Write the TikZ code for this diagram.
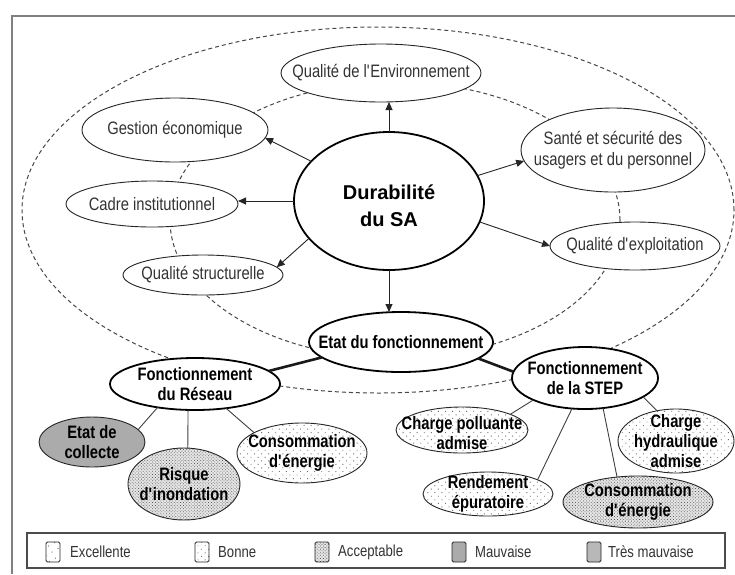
\documentclass[tikz,border=0pt]{standalone}
\usepackage{fontspec}
\setmainfont[FakeStretch=0.82]{Liberation Sans}
\newfontfamily\durfont{Liberation Sans}
\usetikzlibrary{shapes.geometric,patterns,patterns.meta,arrows.meta}
\begin{document}
\begin{tikzpicture}[x=1pt,y=-1pt,
  ell/.style={ellipse, draw=black!85, line width=0.9pt, fill=white, inner sep=0pt, outer sep=0pt},
  thk/.style={line width=1.8pt, draw=black},
  txt/.style={font=\fontsize{18}{21}\selectfont, text=black!80, align=center, inner sep=0pt},
  btxt/.style={font=\fontsize{18}{20}\selectfont\bfseries, text=black, align=center, inner sep=0pt},
  durtxt/.style={font=\durfont\bfseries\fontsize{20}{27}\selectfont, text=black, align=center, inner sep=0pt},
  arr/.style={-{Triangle[length=8pt,width=7pt]}, line width=0.9pt, draw=black!85},
  lnk/.style={line width=0.9pt, draw=black!75},
  bigl/.style={line width=2.6pt, draw=black!90},
  dsh/.style={draw=black!72, line width=1pt, dash pattern=on 4pt off 3pt},
  bonne/.style={preaction={fill=white}, pattern={Dots[distance=5pt, angle=45, radius=0.65pt]}, pattern color=black!55},
  excel/.style={preaction={fill=white}, pattern={Dots[distance=7pt, angle=30, radius=0.65pt]}, pattern color=black!60},
  acc/.style={preaction={fill=black!10}, pattern={Dots[distance=2.2pt, angle=45, radius=0.55pt]}, pattern color=black!65},
  mauv/.style={fill=black!33},
  tmauv/.style={fill=black!28},
  sw/.style={rectangle, draw=black!85, line width=0.8pt, rounded corners=1.5pt, minimum width=14pt, minimum height=20pt, inner sep=0pt},
  lt/.style={font=\fontsize{16}{18}\selectfont, text=black!80, anchor=west, inner sep=0pt}
  ]
\useasboundingbox (0,0) rectangle (735,574);
\fill[white] (0,0) rectangle (735,574);
% frame
\draw[black!50, line width=2.2pt] (735,16) -- (12,16) -- (12,574);
% dashed ellipses
\draw[dsh] (378,210) ellipse [x radius=356pt, y radius=183pt];
\draw[dsh] (395,220) ellipse [x radius=225pt, y radius=138pt];

% upper nodes
\node[ell, minimum width=200pt, minimum height=58pt, label={[txt]center:Qualité de l\textquotesingle Environnement}] (QE) at (381,73) {};
\node[ell, thk, minimum width=190pt, minimum height=138pt, label={[durtxt, yshift=-5pt]center:{Durabilité\\du SA}}] (DUR) at (389,201) {};
\node[ell, minimum width=186pt, minimum height=64pt, label={[txt]center:Gestion économique}] (GE) at (175,130) {};
\node[ell, minimum width=172pt, minimum height=46pt, label={[txt]center:Cadre institutionnel}] (CI) at (152,204) {};
\node[ell, minimum width=160pt, minimum height=40pt, label={[txt]center:Qualité structurelle}] (QS) at (203,275) {};
\node[ell, minimum width=184pt, minimum height=84pt, label={[txt]center:{Santé et sécurité des\\usagers et du personnel}}] (SS) at (613,150) {};
\node[ell, minimum width=170pt, minimum height=48pt, label={[txt]center:Qualité d\textquotesingle exploitation}] (QX) at (635,246) {};

% middle and lower nodes
\node[ell, thk, minimum width=184pt, minimum height=60pt, label={[btxt]center:Etat du fonctionnement}] (ET) at (401,342) {};
\node[ell, thk, minimum width=170pt, minimum height=52pt, label={[btxt]center:{Fonctionnement\\du Réseau}}] (RE) at (195,384) {};
\node[ell, thk, minimum width=146pt, minimum height=62pt, label={[btxt]center:{Fonctionnement\\de la STEP}}] (ST) at (585,378) {};

\node[ell, mauv, minimum width=106pt, minimum height=50pt, label={[btxt]center:{Etat de\\collecte}}] (EC) at (92,442) {};
\node[ell, acc, minimum width=112pt, minimum height=72pt, label={[btxt]center:{Risque\\d\textquotesingle inondation}}] (RI) at (184,484) {};
\node[ell, bonne, minimum width=130pt, minimum height=60pt, label={[btxt]center:{Consommation\\d\textquotesingle énergie}}] (CG) at (302,453) {};
\node[ell, bonne, minimum width=132pt, minimum height=46pt, label={[btxt, yshift=-3pt]center:{Charge polluante\\admise}}] (CP) at (462,430) {};
\node[ell, bonne, minimum width=116pt, minimum height=64pt, label={[btxt]center:{Charge\\hydraulique\\admise}}] (CH) at (676,441) {};
\node[ell, bonne, minimum width=130pt, minimum height=44pt, label={[btxt]center:{Rendement\\épuratoire}}] (RD) at (488,494) {};
\node[ell, acc, minimum width=150pt, minimum height=52pt, label={[btxt]center:{Consommation\\d\textquotesingle énergie}}] (CD) at (638,502) {};

% arrows from Durabilite
\draw[arr] (DUR.north) -- (DUR.north |- QE.south);
\draw[arr] (DUR.153) -- (GE.-5);
\draw[arr] (DUR.west) -- (DUR.west -| CI.east);
\draw[arr] (DUR.205) -- (QS.6);
\draw[arr] (DUR.16) -- (SS.187);
\draw[arr] (DUR.-13) -- (QX.west);
\draw[arr] (DUR.south) -- (DUR.south |- ET.north);

% thick links
\draw[bigl] (ET.191) -- (RE.10);
\draw[bigl] (ET.-12) -- (ST.175);

% thin links
\draw[lnk] (RE.212) -- (EC.15);
\draw[lnk] (RE.255) -- (RI.84);
\draw[lnk] (RE.322) -- (CG.157);
\draw[lnk] (ST.203) -- (CP.18);
\draw[lnk] (ST.247) -- (RD.16);
\draw[lnk] (ST.301) -- (CD.130);
\draw[lnk] (ST.342) -- (CH.122);

% legend
\node[draw=black!70, line width=1.4pt, rectangle, minimum width=698pt, minimum height=35pt, inner sep=0pt] (LEG) at (376,550.5) {};
\node[sw, excel] (S1) at (53,552) {};
\node[lt] (T1) at (70,552) {Excellente};
\node[sw, bonne] (S2) at (202,552) {};
\node[lt] (T2) at (218,552) {Bonne};
\node[sw, acc] (S3) at (322,552) {};
\node[lt] (T3) at (338,552) {Acceptable};
\node[sw, mauv] (S4) at (459,552) {};
\node[lt] (T4) at (475,552) {Mauvaise};
\node[sw, tmauv] (S5) at (594,552) {};
\node[lt] (T5) at (608,552) {Très mauvaise};
\end{tikzpicture}
\end{document}
